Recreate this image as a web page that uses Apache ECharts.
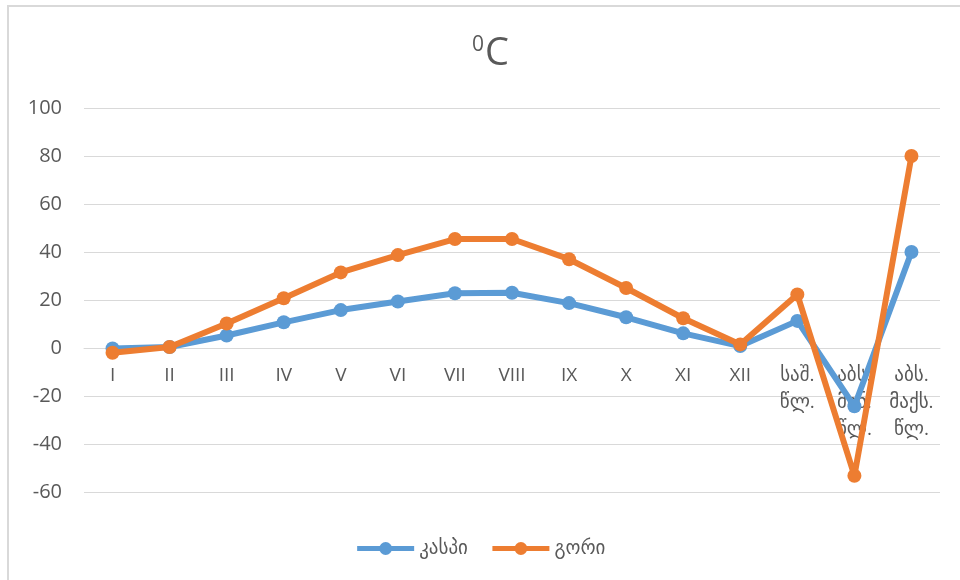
<!DOCTYPE html>
<html>
<head>
<meta charset="utf-8">
<script src="https://cdn.jsdelivr.net/npm/echarts@6/dist/echarts.min.js"></script>
<style>html,body{margin:0;padding:0;background:#fff}#c{width:960px;height:580px}</style>
</head>
<body>
<div id="c"></div>
<script>
const categories = ['I','II','III','IV','V','VI','VII','VIII','IX','X','XI','XII','საშ.\nწლ.','აბს.\nმინ.\nწლ.','აბს.\nმაქს.\nწლ.'];
const kaspi = [-0.2, 0.4, 5.2, 10.7, 15.8, 19.4, 22.8, 23.0, 18.7, 12.8, 6.1, 0.8, 11.3, -24.3, 40];
const gori = [-2.0, 0.4, 10.2, 20.7, 31.5, 38.7, 45.4, 45.4, 37.0, 25.0, 12.4, 1.5, 22.3, -53.2, 80];
const seriesNames = ['კასპი', 'გორი'];
const yTicks = {min: -60, max: 100, interval: 20};

const FONT = "'Open Sans', 'DejaVu Sans', sans-serif";
const chart = echarts.init(document.getElementById('c'));
chart.setOption({
  animation: false,
  backgroundColor: '#fff',
  color: ['#5B9BD5', '#ED7D31'],
  title: {
    text: '{s|0}{c|C}',
    left: 467,
    top: 30,
    textStyle: {
      fontWeight: 'normal',
      rich: {
        s: {fontSize: 21, color: '#595959', fontFamily: FONT, fontWeight: 'normal', verticalAlign: 'top', padding: [0, 1, 16, 0]},
        c: {fontSize: 38, color: '#595959', fontFamily: FONT, fontWeight: 'normal'}
      }
    }
  },
  graphic: [{
    type: 'rect',
    shape: {x: 8, y: 6, width: 1000, height: 700},
    style: {fill: 'none', stroke: '#d9d9d9', lineWidth: 2},
    silent: true
  }],
  legend: {
    bottom: 17,
    left: 'center',
    itemWidth: 57,
    itemHeight: 16,
    itemGap: 22,
    lineStyle: {width: 5},
    textStyle: {fontSize: 19, color: '#595959', fontFamily: FONT},
    data: seriesNames
  },
  grid: {left: 84, right: 20, top: 108, bottom: 88, containLabel: false, outerBoundsMode: 'none'},
  xAxis: {
    type: 'category',
    data: categories,
    boundaryGap: true,
    offset: -144,
    z: 0,
    axisLine: {onZero: false, lineStyle: {color: '#d9d9d9', width: 1}},
    axisTick: {show: false},
    axisLabel: {fontSize: 19, color: '#595959', fontFamily: FONT, margin: 14, lineHeight: 27, interval: 0}
  },
  yAxis: {
    type: 'value',
    min: yTicks.min, max: yTicks.max, interval: yTicks.interval,
    axisLine: {show: false},
    axisTick: {show: false},
    splitLine: {lineStyle: {color: '#d9d9d9', width: 1}},
    axisLabel: {fontSize: 20, color: '#595959', fontFamily: FONT, margin: 22}
  },
  series: [
    {name: seriesNames[0], type: 'line', data: kaspi, symbol: 'circle', symbolSize: 14, lineStyle: {width: 6}, z: 3},
    {name: seriesNames[1], type: 'line', data: gori, symbol: 'circle', symbolSize: 14, lineStyle: {width: 6}, z: 4}
  ]
});
</script>
</body>
</html>
